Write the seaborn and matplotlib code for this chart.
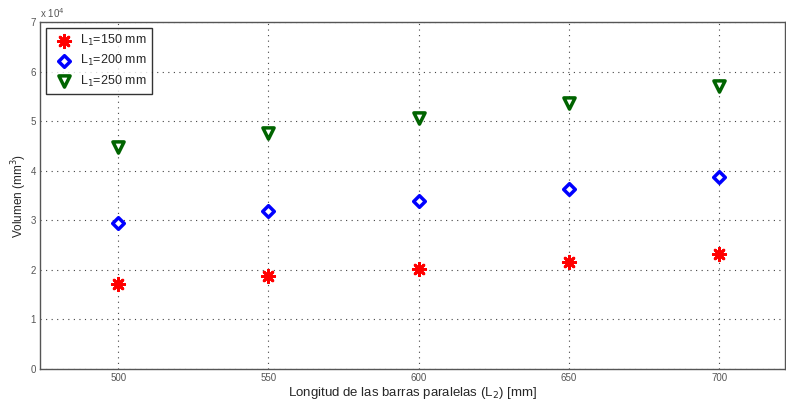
import pandas as pd
import seaborn as sns
import matplotlib.pyplot as plt

longitud = [500, 550, 600, 650, 700]
vol_150 = [1.71e4, 1.87e4, 2.02e4, 2.16e4, 2.32e4]
vol_200 = [2.94e4, 3.19e4, 3.39e4, 3.63e4, 3.87e4]
vol_250 = [4.48e4, 4.76e4, 5.06e4, 5.36e4, 5.71e4]
series_labels = ['L$_1$=150 mm', 'L$_1$=200 mm', 'L$_1$=250 mm']

sns.set_style('white')
plt.rcParams['font.family'] = ['Liberation Sans', 'DejaVu Sans']

fig = plt.figure(figsize=(7.86, 4.0), dpi=100)
ax = fig.add_axes([0.051, 0.0775, 0.948, 0.8675])

styles = [
    (vol_150, 'red', (8, 2, 0), 'red', 80),
    (vol_200, 'blue', 'D', 'white', 35),
    (vol_250, 'darkgreen', 'v', 'white', 65),
]
for (vals, col, mk, fc, sz), lab in zip(styles, series_labels):
    df = pd.DataFrame({'x': longitud, 'y': vals})
    if fc == 'red':
        sns.scatterplot(data=df, x='x', y='y', marker=mk, color=col, s=sz,
                        linewidth=2, ax=ax, label=lab, zorder=3)
    else:
        sns.scatterplot(data=df, x='x', y='y', marker=mk, facecolor=fc,
                        edgecolor=col, s=sz, linewidth=2.5, ax=ax, label=lab,
                        zorder=3)

ax.set_xlim(474, 722)
ax.set_ylim(0, 7e4)
ax.set_xticks(longitud)
ax.set_yticks([i * 1e4 for i in range(8)])
ax.set_yticklabels([str(i) for i in range(8)])
ax.tick_params(axis='both', labelsize=7, labelcolor='#555555', length=4,
               direction='in', colors='#555555', pad=3)
ax.grid(True, linestyle=(0, (1, 4)), color='#444444', linewidth=0.8)
for sp in ax.spines.values():
    sp.set_color('#555555')
    sp.set_linewidth(1)

ax.text(0.0, 1.005, r'x 10$^4$', transform=ax.transAxes, fontsize=7,
        color='#555555', ha='left', va='bottom')
ax.set_xlabel('Longitud de las barras paralelas (L$_2$) [mm]', fontsize=9.5, labelpad=1)
ax.set_ylabel('Volumen (mm$^3$)', fontsize=8.5, labelpad=1)

leg = ax.legend(loc='upper left', fontsize=9, frameon=True, fancybox=False,
                edgecolor='black', borderpad=0.4, handletextpad=0.3,
                labelspacing=0.4, borderaxespad=0.5)
leg.get_frame().set_linewidth(1)

plt.savefig('out.png', dpi=100)
